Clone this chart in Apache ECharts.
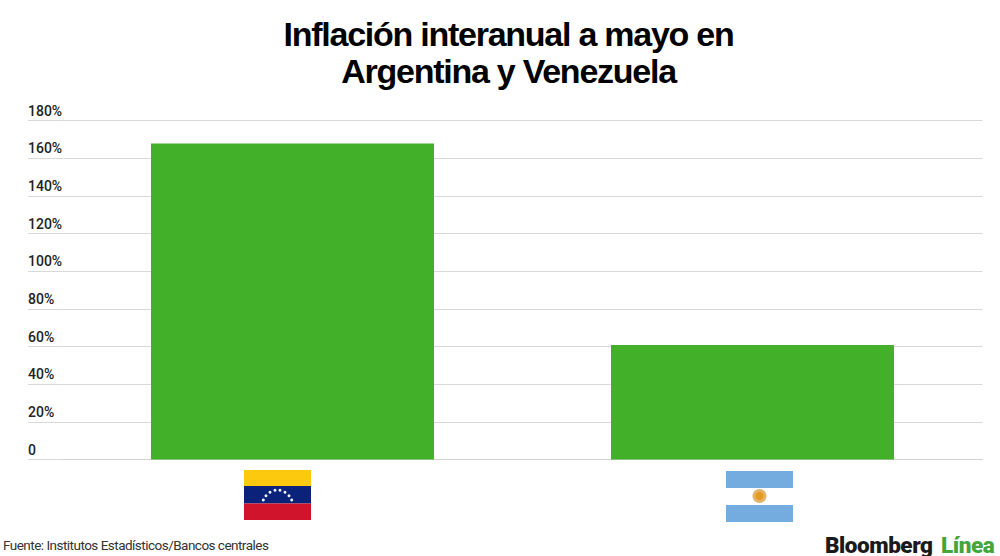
<!DOCTYPE html>
<html>
<head>
<meta charset="utf-8">
<style>
html,body{margin:0;padding:0;background:#fff}
#c{width:1000px;height:556px}
#c svg text[style*="34px"]{letter-spacing:-1.25px}
#c svg text[style*="13.5px"]{letter-spacing:-0.52px}
#c svg text[style*="22.5px"]{letter-spacing:-0.45px}
</style>
<script src="https://cdn.jsdelivr.net/npm/echarts@6/dist/echarts.min.js"></script>
</head>
<body>
<div id="c"></div>
<script>
const titleText = 'Inflación interanual a mayo en\nArgentina y Venezuela';
const sourceText = 'Fuente: Institutos Estadísticos/Bancos centrales';
const categories = ['Venezuela', 'Argentina'];
const inflation = [167.8, 60.8];
const green = '#43b02a';

const starX = [263.3, 266, 270, 275, 280, 285, 289, 291.7];
const starY = [500, 495.7, 492.3, 490.3, 490.3, 492.3, 495.7, 500];
const chart = echarts.init(document.getElementById('c'), null, {renderer: 'svg'});
const stars = starX.map((x, i) => ({
  type: 'circle',
  shape: {cx: x, cy: starY[i], r: 1.5},
  style: {fill: '#eef1f8'}
}));
chart.setOption({
  animation: false,
  backgroundColor: '#fff',
  title: {
    text: titleText, left: 503.5, top: 10, textAlign: 'center',
    textStyle: {fontFamily: 'Liberation Sans', fontWeight: 'bold', fontSize: 34, lineHeight: 37, color: '#000'}
  },
  grid: {left: 62.5, right: 17.5, top: 120.5, bottom: 96.5},
  xAxis: {
    type: 'category', data: categories,
    axisLine: {lineStyle: {color: '#d0d0d0', width: 1}},
    axisTick: {show: false}, axisLabel: {show: false}
  },
  yAxis: {
    type: 'value', min: 0, max: 180, interval: 20,
    axisLine: {show: false},
    axisTick: {show: true, length: 34.5, lineStyle: {color: '#d9d9d9', width: 1}},
    splitLine: {lineStyle: {color: '#d9d9d9', width: 1}},
    axisLabel: {
      margin: 34.5, align: 'left', verticalAlign: 'bottom', color: '#222',
      fontFamily: 'Roboto', fontWeight: 500, fontSize: 14, padding: [0, 0, 3, 0],
      formatter: v => v === 0 ? '0' : v + '%'
    }
  },
  series: [{
    type: 'bar', data: inflation, barWidth: 283,
    itemStyle: {color: green}
  }],
  graphic: [
    {type: 'rect', shape: {x: 244, y: 470, width: 67, height: 16}, style: {fill: '#fdc90f'}},
    {type: 'rect', shape: {x: 244, y: 486, width: 67, height: 17.5}, style: {fill: '#0a2279'}},
    {type: 'rect', shape: {x: 244, y: 503.5, width: 67, height: 16.5}, style: {fill: '#cf142b'}},
    ...stars,
    {type: 'rect', shape: {x: 726, y: 471, width: 67, height: 17}, style: {fill: '#74acdf'}},
    {type: 'rect', shape: {x: 726, y: 505, width: 67, height: 17}, style: {fill: '#74acdf'}},
    {type: 'circle', shape: {cx: 759.5, cy: 496, r: 7}, style: {fill: '#e3b36c'}},
    {type: 'circle', shape: {cx: 759.5, cy: 496, r: 4}, style: {fill: '#e69a1f'}},
    {type: 'text', left: 3, top: 538, style: {text: sourceText, fontFamily: 'Roboto', fontSize: 13.5, fill: '#333'}},
    {type: 'text', left: 825, top: 533, style: {text: 'Bloomberg', fontFamily: 'Roboto', fontWeight: 900, fontSize: 22.5, fill: '#1a1a1a'}},
    {type: 'text', left: 941, top: 533, style: {text: 'Línea', fontFamily: 'Roboto', fontWeight: 900, fontSize: 22.5, fill: '#43a53a'}}
  ]
});
</script>
</body>
</html>
